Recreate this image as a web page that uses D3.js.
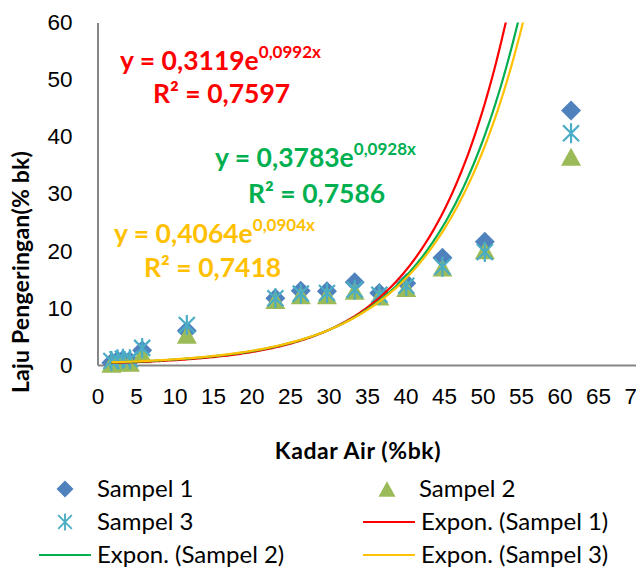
<!DOCTYPE html>
<html>
<head>
<meta charset="utf-8">
<script src="https://cdn.jsdelivr.net/npm/d3@7"></script>
<style>
  body { margin: 0; background: #fff; }
  svg { display: block; font-family: Lato, "Open Sans", sans-serif; }
</style>
</head>
<body>
<div id="chart"></div>
<script>
// Kadar Air (%bk) for each measurement
const kadarAir = [1.8, 2.6, 3.3, 4.2, 5.8, 11.6, 23.1, 26.4, 29.8, 33.4, 36.6, 40.1, 44.8, 50.3, 61.5];
// Laju Pengeringan (% bk)
const sampel1 = [0.4, 0.8, 0.9, 0.7, 2.6, 6.0, 11.7, 13.0, 12.9, 14.5, 12.6, 14.3, 18.8, 21.6, 44.6];
const sampel2 = [0.2, 0.5, 0.5, 0.4, 1.9, 5.3, 11.4, 12.2, 12.2, 13.0, 12.0, 13.5, 17.1, 20.1, 36.5];
const sampel3 = [0.7, 1.0, 1.1, 1.0, 3.0, 7.0, 11.7, 12.5, 12.6, 13.2, 12.3, 13.9, 17.2, 19.8, 40.6];

// exponential trend lines y = a * e^(b x), as printed on the chart
const trendA = [0.3119, 0.3783, 0.4064];
const trendB = [0.0992, 0.0928, 0.0904];
const trendR2 = ["0,7597", "0,7586", "0,7418"];
const trendColors = ["#FF0000", "#00B050", "#FFC000"];

const xTicks = [0, 5, 10, 15, 20, 25, 30, 35, 40, 45, 50, 55, 60, 65, 70];
const yTicks = [0, 10, 20, 30, 40, 50, 60];

const width = 636, height = 569;
const svg = d3.select("#chart").append("svg")
  .attr("width", width)
  .attr("height", height);

const x = d3.scaleLinear().domain([0, 70]).range([97.5, 636.5]);
const y = d3.scaleLinear().domain([0, 60]).range([365, 22.5]);

// axes
svg.append("g")
  .attr("transform", "translate(0," + y(0) + ")")
  .call(d3.axisBottom(x).tickValues(xTicks).tickSize(0).tickPadding(23))
  .call(g => g.select(".domain").attr("stroke", "#868686").attr("stroke-width", 2))
  .call(g => g.selectAll("text").attr("font-size", 22.5).attr("fill", "#000"));

svg.append("g")
  .attr("transform", "translate(" + x(0) + ",0)")
  .call(d3.axisLeft(y).tickValues(yTicks).tickSize(0).tickPadding(25))
  .call(g => g.select(".domain").attr("stroke", "#868686").attr("stroke-width", 2))
  .call(g => g.selectAll("text").attr("font-size", 22.5).attr("fill", "#000"));

// axis titles
svg.append("text")
  .attr("x", 358).attr("y", 459)
  .attr("text-anchor", "middle")
  .attr("font-size", 23).attr("font-weight", "bold")
  .attr("letter-spacing", 0.6)
  .text("Kadar Air (%bk)");

svg.append("text")
  .attr("transform", "translate(29,272) rotate(-90)")
  .attr("text-anchor", "middle")
  .attr("font-size", 23).attr("font-weight", "bold")
  .attr("letter-spacing", 0.2)
  .text("Laju Pengeringan(% bk)");

// marker shapes
const diamond = "M0,-10L10,0L0,10L-10,0Z";
const triangle = "M0,-9L10,9L-10,9Z";
const star = "M0,-10V10M-8,-8L8,8M8,-8L-8,8";

const series = [
  { name: "Sampel 1", values: sampel1, path: diamond, fill: "#4F81BD", stroke: "none" },
  { name: "Sampel 2", values: sampel2, path: triangle, fill: "#9BBB59", stroke: "none" },
  { name: "Sampel 3", values: sampel3, path: star, fill: "none", stroke: "#4BACC6" }
];

series.forEach(s => {
  svg.append("g").selectAll("path")
    .data(kadarAir.map((k, i) => [k, s.values[i]]))
    .join("path")
    .attr("transform", d => "translate(" + x(d[0]) + "," + y(d[1]) + ")")
    .attr("d", s.path)
    .attr("fill", s.fill)
    .attr("stroke", s.stroke)
    .attr("stroke-width", 2.2);
});

// trend lines
svg.append("defs").append("clipPath").attr("id", "plot")
  .append("rect").attr("x", x(0)).attr("y", y(60)).attr("width", width - x(0)).attr("height", y(0) - y(60));

const xMin = d3.min(kadarAir), xMax = d3.max(kadarAir);
trendA.forEach((a, i) => {
  const pts = d3.range(xMin, xMax + 0.01, 0.25).map(v => [v, a * Math.exp(trendB[i] * v)]);
  svg.append("path")
    .datum(pts)
    .attr("clip-path", "url(#plot)")
    .attr("fill", "none")
    .attr("stroke", trendColors[i])
    .attr("stroke-width", 2.2)
    .attr("d", d3.line().x(d => x(d[0])).y(d => y(d[1])));
});

// equation labels
const eqPos = [[120, 70, 153, 103], [215, 167, 248, 203], [114, 243, 144, 277]];
trendA.forEach((a, i) => {
  const p = eqPos[i];
  const t = svg.append("text")
    .attr("x", p[0]).attr("y", p[1])
    .attr("font-size", 26.5).attr("font-weight", "bold")
    .attr("fill", trendColors[i]);
  t.append("tspan").text("y = " + String(a).replace(".", ",") + "e");
  t.append("tspan").attr("dy", -12).attr("font-size", 17)
    .text(String(trendB[i]).replace(".", ",") + "x");
  svg.append("text")
    .attr("x", p[2]).attr("y", p[3])
    .attr("font-size", 26.5).attr("font-weight", "bold")
    .attr("fill", trendColors[i])
    .text("R² = " + trendR2[i]);
});

// legend
const legend = [
  { label: "Sampel 1", type: "marker", s: series[0], x: 65, y: 489 },
  { label: "Sampel 2", type: "marker", s: series[1], x: 387, y: 489 },
  { label: "Sampel 3", type: "marker", s: series[2], x: 65, y: 522 },
  { label: "Expon. (Sampel 1)", type: "line", color: trendColors[0], x: 389, y: 522 },
  { label: "Expon. (Sampel 2)", type: "line", color: trendColors[1], x: 65, y: 555 },
  { label: "Expon. (Sampel 3)", type: "line", color: trendColors[2], x: 389, y: 555 }
];

legend.forEach(l => {
  const g = svg.append("g").attr("transform", "translate(" + l.x + "," + l.y + ")");
  if (l.type === "marker") {
    g.append("path").attr("d", l.s.path)
      .attr("transform", "scale(0.85)")
      .attr("fill", l.s.fill).attr("stroke", l.s.stroke).attr("stroke-width", 2.2);
  } else {
    g.append("line").attr("x1", -26).attr("x2", 26)
      .attr("stroke", l.color).attr("stroke-width", 2.2);
  }
  g.append("text").attr("x", 32).attr("y", 8)
    .attr("font-size", 24).attr("fill", "#000")
    .text(l.label);
});
</script>
</body>
</html>
